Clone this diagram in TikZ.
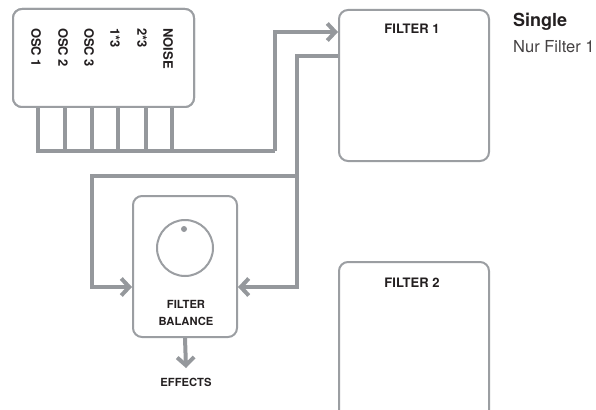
\documentclass[tikz,border=0pt]{standalone}
\usepackage{fontspec}
\setmainfont{TeX Gyre Heros}
\usetikzlibrary{arrows.meta,calc}
\definecolor{conncol}{HTML}{95989C}
\definecolor{boxcol}{HTML}{9B9EA2}
\definecolor{txtcol}{HTML}{231F20}
\begin{document}
\begin{tikzpicture}[x=1pt,y=-1pt,
  panel/.style={draw=boxcol,line width=2pt,rounded corners=9pt,fill=white,inner sep=0pt},
  conn/.style={draw=conncol,line width=4pt,line join=miter},
  arr/.style={-{Straight Barb[length=8pt,width=17pt]}},
  lab/.style={font=\bfseries\fontsize{11.2}{17}\selectfont,text=txtcol,inner sep=0pt,align=center},
  biglab/.style={lab,font=\bfseries\fontsize{13}{17}\selectfont},
  osclab/.style={biglab,rotate=-90,anchor=west}]
\useasboundingbox (0,0) rectangle (596,409);
% coordinates for stubs
\path (38,0) coordinate (x1) (65,0) coordinate (x2) (92,0) coordinate (x3)
      (118,0) coordinate (x4) (146,0) coordinate (x5) (172,0) coordinate (x6);
\coordinate (busL) at (38,151);
\coordinate (busR) at (275,151);
\coordinate (j1) at (297,176);
\coordinate (j2) at (92,176);
\coordinate (lvl) at (0,287);
% nodes
\node[panel,minimum width=181pt,minimum height=98pt] (osc) at (103.5,58) {};
\node[panel,minimum width=150pt,minimum height=151pt] (f1) at (414,85.5) {};
\node[panel,minimum width=150pt,minimum height=163pt] (f2) at (414,343.5) {};
\node[panel,minimum width=104pt,minimum height=141pt] (bal) at (185,266.5) {};
\coordinate (f1in) at ([yshift=-23pt]f1.north west);
\coordinate (f1out) at ([yshift=-47pt]f1.north west);
% stubs and bus
\draw[conn] (osc.south -| x1) -- (busL) -- (busR);
\foreach \i in {2,...,6} { \draw[conn] (osc.south -| x\i) -- (busL -| x\i); }
\draw[conn,arr] (busR) |- (f1in);
\draw[conn] (f1out) -| (j1);
\draw[conn,arr] (j1) -- (j2) |- (bal.west |- lvl);
\draw[conn,arr] (j1) |- (bal.east |- lvl);
% redraw box over stubs
\node[panel,minimum width=181pt,minimum height=98pt] at (osc) {};
% knob
\node[draw=boxcol,line width=2pt,circle,minimum size=56pt,inner sep=0pt] (knob) at (185,248) {};
\node[fill=conncol,circle,minimum size=6pt,inner sep=0pt] (dot) at (184,229) {};
% labels
\node[biglab] (f1lab) at (412,29) {FILTER 1};
\node[biglab] (f2lab) at (412,283) {FILTER 2};
\node[lab] (ballab) at (186,313) {FILTER\\BALANCE};
\node[lab] (eff) at (186,382) {EFFECTS};
\coordinate (effin) at (186,368);
\draw[conn,arr] (bal.south) -- (effin);
\node[osclab] (o1) at (36,28) {OSC 1};
\node[osclab] (o2) at (63,28) {OSC 2};
\node[osclab] (o3) at (89,28) {OSC 3};
\node[osclab] (o4) at (115,28) {1*3};
\node[osclab] (o5) at (142,28) {2*3};
\node[osclab] (o6) at (168,28) {NOISE};
\node[anchor=west,font=\bfseries\fontsize{18}{20}\selectfont,text=txtcol,inner sep=0pt] (single) at (513,22) {Single};
\node[anchor=west,font=\fontsize{16.5}{20}\selectfont,text=txtcol!85,inner sep=0pt] (nur) at (513,47) {Nur Filter 1};
\end{tikzpicture}
\end{document}
